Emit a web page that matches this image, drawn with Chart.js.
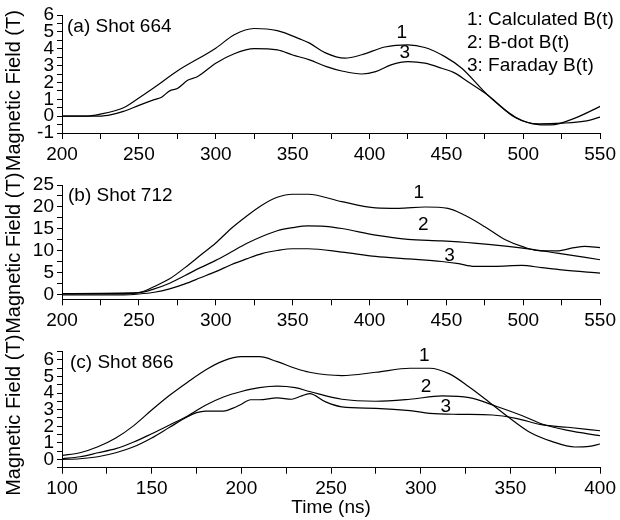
<!DOCTYPE html>
<html>
<head>
<meta charset="utf-8">
<script src="https://cdn.jsdelivr.net/npm/chart.js@4/dist/chart.umd.min.js"></script>
<style>
  body { margin: 0; background: #fff; }
  #wrap { position: relative; width: 620px; height: 520px; }
  #wrap canvas { position: absolute; left: 0; top: 0; }
</style>
</head>
<body>
<div id="wrap">
  <canvas id="shotA" width="620" height="520"></canvas>
  <canvas id="shotB" width="620" height="520"></canvas>
  <canvas id="shotC" width="620" height="520"></canvas>
</div>
<script>
// (a) Shot 664 - times in ns, field in T
const aCalcT = [200, 215, 225, 240, 250, 260, 275, 300, 312, 325, 340, 355, 361, 371, 384, 395, 410, 425, 436, 449, 460, 477, 495, 510, 518, 534, 550];
const aCalcB = [0, 0, 0.12, 0.5, 1.08, 1.7, 2.68, 4.03, 4.83, 5.2, 5.07, 4.57, 4.33, 3.77, 3.44, 3.64, 4.1, 4.23, 4.07, 3.53, 2.84, 1.24, -0.06, -0.5, -0.52, -0.1, 0.58];
const aFarT = [200, 220, 230, 240, 250, 260, 265, 270, 275, 282, 288, 300, 312, 325, 340, 350, 361, 372, 382, 395, 404, 414, 425, 436, 447, 455, 464, 477, 495, 510, 525, 540, 550];
const aFarB = [0, 0, 0.05, 0.28, 0.64, 0.98, 1.14, 1.5, 1.64, 2.14, 2.34, 3.14, 3.7, 4.0, 3.93, 3.63, 3.34, 2.94, 2.68, 2.5, 2.64, 3.04, 3.23, 3.14, 2.84, 2.58, 2.04, 1.24, -0.1, -0.46, -0.42, -0.3, -0.06];

// (b) Shot 712
const bCalcT = [200, 240, 250, 260, 270, 280, 290, 300, 310, 320, 330, 340, 350, 360, 382, 404, 419, 436, 451, 462, 475, 488, 501, 512, 522, 533, 540, 550];
const bCalcB = [0.3, 0.3, 0.5, 1.9, 3.66, 6.2, 9.0, 11.8, 15.1, 17.9, 20.4, 22.2, 22.9, 22.9, 21.2, 19.8, 19.7, 20.0, 19.7, 18.1, 15.5, 12.6, 10.8, 10.0, 10.0, 10.75, 11.05, 10.75];
const bDotT = [200, 250, 260, 270, 280, 290, 300, 310, 320, 330, 340, 350, 360, 371, 382, 404, 425, 447, 468, 490, 507, 522, 550];
const bDotB = [0.3, 0.5, 1.37, 2.66, 4.4, 6.2, 7.85, 9.75, 11.7, 13.3, 14.6, 15.3, 15.7, 15.6, 15.1, 13.6, 12.65, 12.3, 11.8, 11.05, 10.3, 9.5, 8.0];
const bFarT = [200, 240, 250, 260, 270, 280, 290, 300, 310, 320, 330, 340, 350, 360, 382, 404, 425, 447, 458, 468, 481, 499, 512, 525, 550];
const bFarB = [0, 0, 0.2, 0.6, 1.37, 2.5, 3.9, 5.3, 6.86, 8.2, 9.4, 10.1, 10.5, 10.5, 9.75, 8.76, 8.2, 7.6, 7.1, 6.5, 6.5, 6.7, 6.2, 5.7, 4.95];

// (c) Shot 866
const cCalcT = [100, 110, 120, 130, 140, 150, 160, 170, 180, 190, 200, 210, 220, 230, 238, 256, 275, 294, 305, 316, 327, 338, 349, 360, 373, 386, 394, 400];
const cCalcB = [0.24, 0.4, 0.76, 1.29, 2.04, 2.98, 3.87, 4.66, 5.4, 5.95, 6.2, 6.2, 5.9, 5.5, 5.26, 5.06, 5.26, 5.5, 5.5, 5.16, 4.37, 3.47, 2.54, 1.69, 1.09, 0.75, 0.79, 0.93];
const cDotT = [100, 110, 120, 130, 140, 150, 160, 170, 180, 190, 200, 210, 220, 230, 238, 256, 275, 294, 312, 327, 342, 357, 368, 382, 400];
const cDotB = [0.04, 0.16, 0.4, 0.65, 1.05, 1.55, 2.08, 2.62, 3.27, 3.77, 4.1, 4.33, 4.42, 4.33, 4.1, 3.63, 3.51, 3.63, 3.83, 3.73, 3.21, 2.62, 2.12, 1.75, 1.43];
const cFarT = [100, 110, 120, 130, 140, 150, 160, 170, 175, 180, 190, 195, 200, 205, 210, 220, 228, 233, 238, 247, 256, 275, 294, 305, 321, 340, 353, 368, 382, 400];
const cFarB = [0, 0.04, 0.16, 0.4, 0.76, 1.29, 1.94, 2.58, 2.82, 2.92, 2.92, 3.08, 3.33, 3.6, 3.6, 3.71, 3.63, 3.81, 3.97, 3.47, 3.17, 3.08, 2.94, 2.78, 2.72, 2.68, 2.48, 2.08, 1.94, 1.73];

// curve numbers, placed in data coords [time, field]
const aMarks = [['1', 421, 4.95], ['3', 423, 3.75]];
const bMarks = [['1', 432, 23.2], ['2', 435, 15.9], ['3', 452, 9.0]];
const cMarks = [['1', 302, 6.25], ['2', 303, 4.36], ['3', 314, 3.17]];

const legendLines = ['1: Calculated B(t)', '2: B-dot B(t)', '3: Faraday B(t)'];
const yTitle = 'Magnetic Field (T)';
const xTitle = 'Time (ns)';

const FONT = "'Liberation Sans', Arial, sans-serif";

function toPoints(ts, bs) {
  return ts.map((t, i) => ({ x: t, y: bs[i] }));
}

function series(ts, bs) {
  return {
    data: toPoints(ts, bs),
    borderColor: '#000',
    borderWidth: 1.2,
    pointRadius: 0,
    fill: false,
    cubicInterpolationMode: 'monotone'
  };
}

// ticks on multiples of step inside [min, max] (keeps the 0 label)
function evenTicks(step) {
  return scale => {
    const out = [];
    const first = Math.ceil(scale.min / step - 1e-9);
    const last = Math.floor(scale.max / step + 1e-9);
    for (let i = first; i <= last; i++) {
      out.push({ value: +(i * step).toFixed(4) });
    }
    scale.ticks = out;
  };
}

// draws panel tag, curve numbers and (optionally) the legend text
function textPlugin(tag, tagPos, marks, withLegend) {
  return {
    id: 'texts',
    afterDraw(chart) {
      const ctx = chart.ctx;
      const xs = chart.scales.x, ys = chart.scales.y;
      ctx.save();
      ctx.fillStyle = '#000';
      ctx.font = '19px ' + FONT;
      ctx.textBaseline = 'middle';
      ctx.textAlign = 'left';
      ctx.fillText(tag, tagPos[0], tagPos[1]);
      ctx.textAlign = 'center';
      marks.forEach(m => {
        ctx.fillText(m[0], xs.getPixelForValue(m[1]), ys.getPixelForValue(m[2]));
      });
      if (withLegend) {
        ctx.textAlign = 'left';
        legendLines.forEach((s, i) => ctx.fillText(s, 467, 20 + i * 23));
      }
      ctx.restore();
    }
  };
}

function makePanel(id, opts) {
  const sp = '\u00a0'.repeat(opts.titleShift);
  return new Chart(document.getElementById(id), {
    type: 'line',
    data: { datasets: opts.datasets },
    options: {
      responsive: false,
      animation: false,
      events: [],
      layout: { padding: { left: 0, right: 18, top: opts.top, bottom: opts.bottom } },
      plugins: { legend: { display: false }, tooltip: { enabled: false } },
      scales: {
        x: {
          type: 'linear',
          min: opts.xmin,
          max: opts.xmax,
          afterFit: s => { s.height = opts.xh; },
          afterBuildTicks: evenTicks(25),
          ticks: {
            color: '#000',
            font: { family: FONT, size: 19 },
            padding: 4,
            maxRotation: 0,
            autoSkip: false,
            callback: v => (v % 50 === 0 ? String(v) : '')
          },
          grid: { drawOnChartArea: false, drawTicks: true, tickLength: 6, color: '#000' },
          border: { color: '#000', width: 1 },
          title: {
            display: !!opts.showX,
            text: xTitle,
            color: '#000',
            font: { family: FONT, size: 19 },
            padding: { top: 0, bottom: 1 }
          }
        },
        y: {
          min: opts.ymin,
          max: opts.ymax,
          afterFit: s => { s.width = 62; },
          afterBuildTicks: evenTicks(opts.ystep),
          ticks: {
            color: '#000',
            font: { family: FONT, size: 19 },
            padding: 3,
            autoSkip: false,
            callback: v => (Math.abs(v % opts.ylab) < 1e-6 ? String(v) : '')
          },
          grid: { drawOnChartArea: false, drawTicks: true, tickLength: 5, color: '#000' },
          border: { color: '#000', width: 1 },
          title: {
            display: true,
            text: yTitle + sp,
            color: '#000',
            font: { family: FONT, size: 20 },
            padding: { top: 2, bottom: 0 }
          }
        }
      }
    },
    plugins: [textPlugin(opts.tag, opts.tagPos, opts.marks, opts.legend)]
  });
}

makePanel('shotA', {
  datasets: [series(aCalcT, aCalcB), series(aFarT, aFarB)],
  xmin: 200, xmax: 550, ymin: -1, ymax: 6, ystep: 0.5, ylab: 1,
  top: 15, bottom: 352, xh: 35, titleShift: 6,
  tag: '(a) Shot 664', tagPos: [67, 27], marks: aMarks, legend: true
});

makePanel('shotB', {
  datasets: [series(bCalcT, bCalcB), series(bDotT, bDotB), series(bFarT, bFarB)],
  xmin: 200, xmax: 550, ymin: -1, ymax: 25, ystep: 2.5, ylab: 5,
  top: 185, bottom: 190.7, xh: 30, titleShift: 4,
  tag: '(b) Shot 712', tagPos: [68, 196], marks: bMarks, legend: false
});

makePanel('shotC', {
  datasets: [series(cCalcT, cCalcB), series(cDotT, cDotB), series(cFarT, cFarB)],
  xmin: 100, xmax: 400, ymin: -0.5, ymax: 6.5, ystep: 0.5, ylab: 1,
  top: 351.7, bottom: 0, xh: 52.3, titleShift: 2, showX: true,
  tag: '(c) Shot 866', tagPos: [70, 363], marks: cMarks, legend: false
});
</script>
</body>
</html>
